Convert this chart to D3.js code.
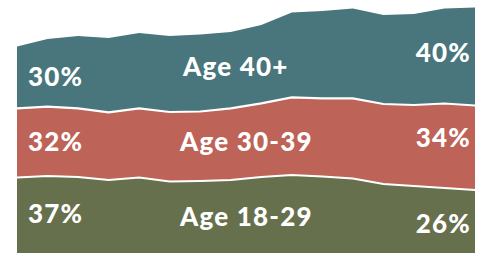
<!DOCTYPE html>
<html>
<head>
<meta charset="utf-8">
<script src="https://cdn.jsdelivr.net/npm/d3@7"></script>
<style>
    body { margin: 0; background: #fff; }
    svg { display: block; }
    .label { fill: #fff; font-family: Lato, "Open Sans", sans-serif; font-weight: 900; font-size: 26px; letter-spacing: 1.2px; }
</style>
</head>
<body>
<svg width="482" height="253"></svg>
<script>
// Set up data (arbitrary units)
let periods = [0, 1, 2, 3, 4, 5, 6, 7, 8, 9, 10, 11, 12, 13, 14, 15];
let age1829 = [75.5, 77, 76, 73, 75.5, 71.5, 72, 73, 76, 78, 76.5, 74.5, 69, 67, 65, 63];
let age3039 = [69.2, 69.3, 68.7, 67.7, 69.2, 69.5, 69.5, 71.7, 73.7, 77.7, 78.2, 80.2, 80, 81, 84.5, 84.5];
let age40 = [61.8, 67.7, 72.3, 74.3, 75.3, 76, 77, 76.3, 78.3, 84.8, 87.3, 89.8, 89, 91, 95, 98];

let seriesNames = ["Age 18-29", "Age 30-39", "Age 40+"];
let firstLabels = ["37%", "32%", "30%"];
let lastLabels = ["26%", "34%", "40%"];
let colors = ["#67704c", "#bd6357", "#48767c"];

// Set up variables
let svg = d3.select("svg");
let width = 482;
let height = 253;

let rows = periods.map(function(p, i) {
    return { period: p, "Age 18-29": age1829[i], "Age 30-39": age3039[i], "Age 40+": age40[i] };
});

let stack = d3.stack().keys(seriesNames);
let layers = stack(rows);

// Set up scales
let xScale = d3.scaleLinear()
    .domain(d3.extent(periods))
    .range([17, 475]);

let yScale = d3.scaleLinear()
    .domain([0, 245.5])
    .range([height, 7.5]);

let area = d3.area()
    .x(function(d) { return xScale(d.data.period); })
    .y0(function(d) { return yScale(d[0]); })
    .y1(function(d) { return yScale(d[1]); });

let line = d3.line()
    .x(function(d) { return xScale(d.data.period); })
    .y(function(d) { return yScale(d[1]); });

// Draw areas
svg.selectAll("path.layer")
    .data(layers)
    .enter().append("path")
    .attr("class", "layer")
    .attr("fill", function(d, i) { return colors[i]; })
    .attr("d", area);

// White seams between layers
svg.selectAll("path.seam")
    .data(layers.slice(0, 2))
    .enter().append("path")
    .attr("class", "seam")
    .attr("fill", "none")
    .attr("stroke", "#fff")
    .attr("stroke-width", 2.2)
    .attr("d", line);

// Labels
let nameX = [180, 180, 183];
let nameY = [226, 151, 76];
let firstY = [223, 151, 86];
let lastY = [233, 147, 62];

svg.selectAll("text.name")
    .data(seriesNames)
    .enter().append("text")
    .attr("class", "label name")
    .attr("x", function(d, i) { return nameX[i]; })
    .attr("y", function(d, i) { return nameY[i]; })
    .text(function(d) { return d; });

svg.selectAll("text.first")
    .data(firstLabels)
    .enter().append("text")
    .attr("class", "label first")
    .attr("x", 28)
    .attr("y", function(d, i) { return firstY[i]; })
    .text(function(d) { return d; });

svg.selectAll("text.last")
    .data(lastLabels)
    .enter().append("text")
    .attr("class", "label last")
    .attr("x", 471)
    .attr("y", function(d, i) { return lastY[i]; })
    .attr("text-anchor", "end")
    .text(function(d) { return d; });
</script>
</body>
</html>
